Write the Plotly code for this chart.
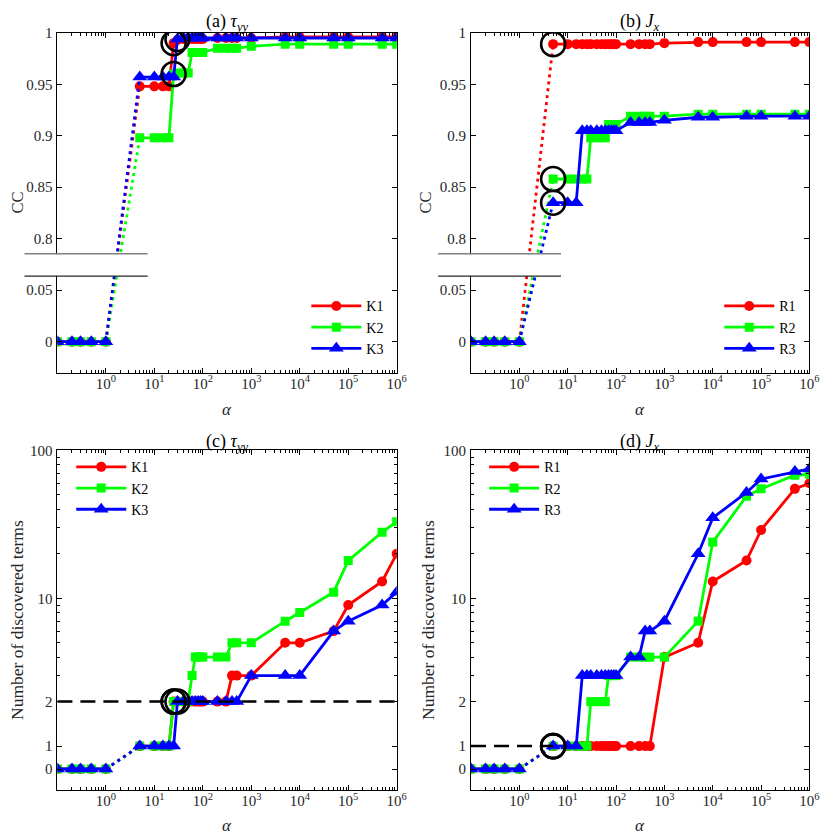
import plotly.graph_objects as go

# ---------------- data ----------------
alpha = [0.1, 0.2, 0.3, 0.5, 1, 5, 10, 15, 20, 25, 30, 40, 50, 60, 70, 80, 90, 100,
         200, 300, 400, 500, 1e3, 5e3, 1e4, 5e4, 1e5, 5e5, 1e6]

# (a) CC, tau_yy
cc_K1 = [0] * 5 + [0.948] * 4 + [0.990, 0.993] + [0.994] * 7 + [0.995] * 4 + [0.995] + [0.996] * 6
cc_K2 = [0] * 5 + [0.898] * 4 + [0.960] + [0.961] * 3 + [0.981] * 5 + [0.985] * 4 + [0.987] + [0.989] * 6
cc_K3 = [0] * 5 + [0.957] * 5 + [0.994] + [0.995] * 7 + [0.995] * 4 + [0.995] + [0.995] * 6

# (b) CC, J_x
cc_R1 = [0] * 5 + [0.989] * 17 + [0.990] + [0.991] * 6
cc_R2 = [0] * 5 + [0.858] * 5 + [0.898] * 4 + [0.911] * 4 + [0.919] * 5 + [0.921] * 6
cc_R3 = [0] * 5 + [0.835] * 3 + [0.905] * 10 + [0.913] * 4 + [0.915] + [0.918] * 2 + [0.919] * 4

# (c) number of discovered terms, tau_yy
n_K1 = [0] * 5 + [1] * 4 + [2] * 11 + [3] * 3 + [5, 5, 6, 9, 13, 20]
n_K2 = [0] * 5 + [1] * 4 + [2] * 4 + [3] + [4] * 6 + [5] * 3 + [7, 8, 11, 18, 28, 33]
n_K3 = [0] * 5 + [1] * 5 + [2] * 12 + [3] * 3 + [6, 7, 9, 11]

# (d) number of discovered terms, J_x
n_R1 = [0] * 5 + [1] * 17 + [4, 5, 13, 18, 29, 55, 60]
n_R2 = [0] * 5 + [1] * 5 + [2] * 4 + [3] * 4 + [4] * 5 + [7, 24, 49, 55, 68, 69]
n_R3 = [0] * 5 + [1] * 3 + [3] * 10 + [4, 4, 6, 6, 7] + [20, 35, 52, 64, 72, 75]

true_terms_tau = 2
true_terms_jx = 1

cc_ticks = [0, 0.05, 0.8, 0.85, 0.9, 0.95, 1]
cc_ticklabels = ["0", "0.05", "0.8", "0.85", "0.9", "0.95", "1"]
n_ticks = [0, 1, 2, 10, 100]
n_ticklabels = ["0", "1", "2", "10", "100"]
x_ticks = [1, 10, 100, 1e3, 1e4, 1e5, 1e6]
x_ticklabels = ["10<sup>%d</sup>" % k for k in range(7)]

names_K = ["K1", "K2", "K3"]
names_R = ["R1", "R2", "R3"]

# ---------------- style ----------------
FONT = "Liberation Serif"
colors = ["#ff0000", "#00ff00", "#0000ff"]
symbols = ["circle", "square", "triangle-up"]
msizes = [10, 9, 13]
LW = 2.8

W, H = 822, 830      # the page adds an 8px body margin; reference px -> figure px = ref - 8
OFF = 8


def px_x(X):
    return (X - OFF) / W


def px_y(Y):
    return 1 - (Y - OFF) / H


def cc_t(v):
    # broken axis: lower part 0..0.05, upper part 0.8..1, one tick step per 0.05
    return v / 0.05 if v < 0.5 else 2 + (v - 0.8) / 0.05


def n_t(v):
    # zero is drawn just below 1 on the log axis
    return 0.7 if v == 0 else v


fig = go.Figure()

i1 = alpha.index(1)
i5 = alpha.index(5)


def add_panel(sub, series, names, tf, legend):
    xa = "x" if sub == 1 else "x%d" % sub
    ya = "y" if sub == 1 else "y%d" % sub
    for k, vals in enumerate(series):
        ys = [tf(v) for v in vals]
        xs_s = alpha[:i1 + 1] + [None] + alpha[i5:]
        ys_s = ys[:i1 + 1] + [None] + ys[i5:]
        fig.add_trace(go.Scatter(
            x=xs_s, y=ys_s, mode="lines+markers", name=names[k],
            line=dict(color=colors[k], width=LW),
            marker=dict(symbol=symbols[k], size=msizes[k], color=colors[k]),
            xaxis=xa, yaxis=ya, legend=legend, showlegend=True))
        fig.add_trace(go.Scatter(
            x=[alpha[i1], alpha[i5]], y=[ys[i1], ys[i5]], mode="lines",
            line=dict(color=colors[k], width=LW, dash="3px,4px"),
            xaxis=xa, yaxis=ya, showlegend=False, hoverinfo="skip"))


add_panel(1, [cc_K1, cc_K2, cc_K3], names_K, cc_t, "legend")
add_panel(2, [cc_R1, cc_R2, cc_R3], names_R, cc_t, "legend2")
add_panel(3, [n_K1, n_K2, n_K3], names_K, n_t, "legend3")
add_panel(4, [n_R1, n_R2, n_R3], names_R, n_t, "legend4")

# dashed "true number of terms" lines
fig.add_trace(go.Scatter(x=[alpha[0], alpha[-1]], y=[true_terms_tau] * 2, mode="lines",
                         line=dict(color="black", width=2.5, dash="15px,8px"),
                         xaxis="x3", yaxis="y3", showlegend=False))
fig.add_trace(go.Scatter(x=[alpha[0], alpha[i5]], y=[true_terms_jx] * 2, mode="lines",
                         line=dict(color="black", width=2.5, dash="15px,8px"),
                         xaxis="x4", yaxis="y4", showlegend=False))


# circles: first alpha where the true number of terms is found
def first_hits(counts_list, true_terms):
    return [next(i for i, c in enumerate(cs) if c == true_terms) for cs in counts_list]


hits_tau = first_hits([n_K1, n_K2, n_K3], true_terms_tau)
hits_jx = first_hits([n_R1, n_R2, n_R3], true_terms_jx)

circ = dict(symbol="circle-open", size=24, color="black", line=dict(width=2.6, color="black"))
fig.add_trace(go.Scatter(x=[alpha[i] for i in hits_tau],
                         y=[cc_t(s[i]) for s, i in zip([cc_K1, cc_K2, cc_K3], hits_tau)],
                         mode="markers", marker=circ, xaxis="x", yaxis="y", showlegend=False))
fig.add_trace(go.Scatter(x=[alpha[i] for i in hits_jx],
                         y=[cc_t(s[i]) for s, i in zip([cc_R1, cc_R2, cc_R3], hits_jx)],
                         mode="markers", marker=circ, xaxis="x2", yaxis="y2", showlegend=False))
fig.add_trace(go.Scatter(x=[alpha[i] for i in hits_tau],
                         y=[true_terms_tau] * 3,
                         mode="markers", marker=circ, xaxis="x3", yaxis="y3", showlegend=False))
fig.add_trace(go.Scatter(x=[alpha[i] for i in hits_jx],
                         y=[true_terms_jx] * 3,
                         mode="markers", marker=circ, xaxis="x4", yaxis="y4", showlegend=False))

# ---------------- axes ----------------
xdom_l = [px_x(58), px_x(401.5)]
xdom_r = [px_x(476.7), px_x(819.3)]
ydom_t = [px_y(368), px_y(25)]
ydom_b = [px_y(790), px_y(446.7)]

x_minor = [m * 10 ** e for e in range(-1, 6) for m in range(2, 10)]
n_minor = [3, 4, 5, 6, 7, 8, 9, 20, 30, 40, 50, 60, 70, 80, 90]

common = dict(showline=True, linecolor="black", linewidth=1, mirror="ticks",
              ticks="inside", ticklen=5, tickcolor="black", tickwidth=1,
              showgrid=False, zeroline=False,
              tickfont=dict(family=FONT, size=15, color="#262626"))

layout = dict(width=W, height=H, margin=dict(l=0, r=0, t=0, b=0),
              paper_bgcolor="white", plot_bgcolor="white",
              font=dict(family=FONT, size=15, color="#262626"))

for sub, xd, yd in [(1, xdom_l, ydom_t), (2, xdom_r, ydom_t), (3, xdom_l, ydom_b), (4, xdom_r, ydom_b)]:
    xk = "xaxis" if sub == 1 else "xaxis%d" % sub
    yk = "yaxis" if sub == 1 else "yaxis%d" % sub
    anch_x = "y" if sub == 1 else "y%d" % sub
    anch_y = "x" if sub == 1 else "x%d" % sub
    layout[xk] = dict(common, type="log", range=[-1, 6], domain=xd, anchor=anch_x,
                      tickmode="array", tickvals=x_ticks, ticktext=x_ticklabels,
                      ticklabelstandoff=-3,
                      minor=dict(ticks="inside", ticklen=3, tickcolor="black",
                                 tickmode="array", tickvals=x_minor))
    if sub <= 2:
        layout[yk] = dict(common, type="linear", range=[-0.6, 6], domain=yd, anchor=anch_y,
                          tickmode="array", tickvals=[cc_t(v) for v in cc_ticks],
                          ticktext=cc_ticklabels, ticklabelstandoff=1)
    else:
        layout[yk] = dict(common, type="log", range=[-0.3, 2], domain=yd, anchor=anch_y,
                          tickmode="array", tickvals=[n_t(v) for v in n_ticks],
                          ticktext=n_ticklabels, ticklabelstandoff=1,
                          minor=dict(ticks="inside", ticklen=3, tickcolor="black",
                                     tickmode="array", tickvals=n_minor))

# legends
leg = dict(bgcolor="rgba(0,0,0,0)", borderwidth=0, font=dict(family=FONT, size=14, color="black"),
           xanchor="left", yanchor="top", itemwidth=50, tracegroupgap=0)
layout["legend"] = dict(leg, x=px_x(310), y=px_y(285))
layout["legend2"] = dict(leg, x=px_x(728), y=px_y(285))
layout["legend3"] = dict(leg, x=px_x(72), y=px_y(447.5))
layout["legend4"] = dict(leg, x=px_x(490), y=px_y(447.5))

# broken-axis marks
shapes = []
for xr in ["x domain", "x2 domain"]:
    yr = "y" if xr.startswith("x ") else "y2"
    shapes.append(dict(type="rect", xref=xr, yref=yr, x0=-0.1, x1=0.266, y0=1.28, y1=1.70,
                       fillcolor="white", line=dict(width=0), layer="above"))
    shapes.append(dict(type="line", xref=xr, yref=yr, x0=-0.097, x1=0.266, y0=1.706, y1=1.706,
                       line=dict(color="#808080", width=1.5), layer="above"))
    shapes.append(dict(type="line", xref=xr, yref=yr, x0=-0.097, x1=0.266, y0=1.275, y1=1.275,
                       line=dict(color="#262626", width=1.2), layer="above"))
layout["shapes"] = shapes

# titles and axis labels
ann = []
tfont = dict(family=FONT, size=18, color="black")
lfont = dict(family=FONT, size=17, color="#262626")
cfont = dict(family=FONT, size=16.5, color="#262626")
yfont = dict(family=FONT, size=17.5, color="#262626")
for xc, yc, txt in [(230, 15, "(a) <i>τ<sub>yy</sub></i>"), (648, 15, "(b) <i>J<sub>x</sub></i>"),
                    (230, 439, "(c) <i>τ<sub>yy</sub></i>"), (648, 439, "(d) <i>J<sub>x</sub></i>")]:
    ann.append(dict(x=px_x(xc), y=px_y(yc), xref="paper", yref="paper", text=txt,
                    showarrow=False, xanchor="center", yanchor="middle", font=tfont))
for xc, yc in [(230, 405), (648, 405), (230, 825), (648, 825)]:
    ann.append(dict(x=px_x(xc), y=px_y(yc), xref="paper", yref="paper", text="<i>α</i>",
                    showarrow=False, xanchor="center", yanchor="middle", font=lfont))
for xc, yc, txt, f in [(18, 196.5, "CC", cfont), (431, 196.5, "CC", cfont),
                       (17, 618, "Number of discovered terms", yfont),
                       (433, 618, "Number of discovered terms", yfont)]:
    ann.append(dict(x=px_x(xc), y=px_y(yc), xref="paper", yref="paper", text=txt, textangle=-90,
                    showarrow=False, xanchor="center", yanchor="middle", font=f))
layout["annotations"] = ann

fig.update_layout(**layout)
fig.write_html("out.html", config={"displayModeBar": False})
